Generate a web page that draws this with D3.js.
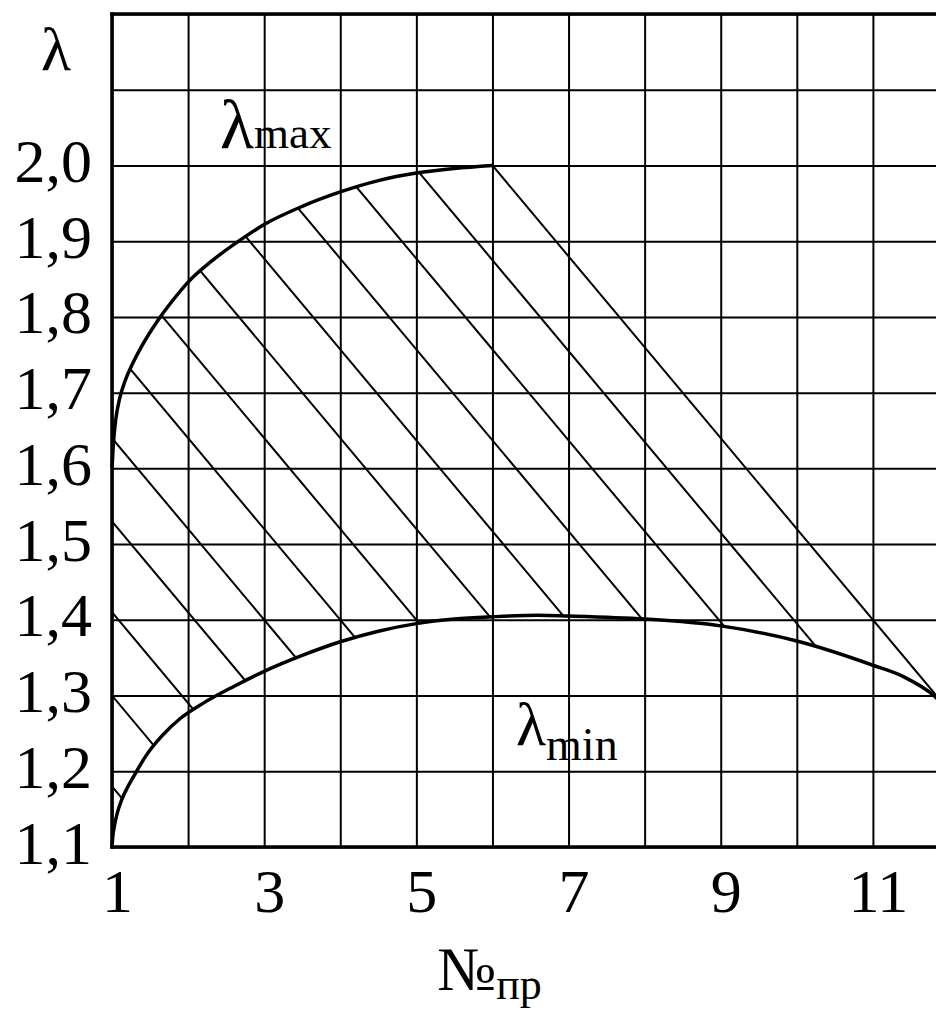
<!DOCTYPE html>
<html><head><meta charset="utf-8">
<script src="https://cdn.jsdelivr.net/npm/d3@7"></script>
<style>body{margin:0;background:#fff} svg{display:block}</style>
</head><body>
<script>
// ---- data ----
const xGridValues = [1,2,3,4,5,6,7,8,9,10,11,12];
const xTickValues = [1,3,5,7,9,11];
const xTickLabels = ["1","3","5","7","9","11"];
const yGridValues = [1.1,1.2,1.3,1.4,1.5,1.6,1.7,1.8,1.9,2.0,2.1,2.2];
const yTickValues = [1.1,1.2,1.3,1.4,1.5,1.6,1.7,1.8,1.9,2.0];
const yTickLabels = ["1,1","1,2","1,3","1,4","1,5","1,6","1,7","1,8","1,9","2,0"];

const lambdaMaxX = [1, 1.02, 1.05, 1.1, 1.17, 1.27, 1.4, 1.6, 1.8, 2, 2.3, 2.65, 3, 3.5, 4, 4.5, 5, 5.5, 6];
const lambdaMaxY = [1.6, 1.635, 1.665, 1.692, 1.715, 1.738, 1.763, 1.795, 1.822, 1.846, 1.873, 1.899, 1.922, 1.946, 1.965, 1.980, 1.990, 1.996, 2.0];

const lambdaMinX = [1, 1.01, 1.03, 1.07, 1.13, 1.2, 1.3, 1.45, 1.65, 1.9, 2.2, 2.6, 3, 3.5, 4, 4.5, 5, 5.5, 6, 6.6, 7, 8, 9, 10, 11, 11.4, 11.8, 12];
const lambdaMinY = [1.1, 1.113, 1.127, 1.145, 1.163, 1.178, 1.196, 1.221, 1.246, 1.270, 1.290, 1.312, 1.332, 1.353, 1.371, 1.385, 1.395, 1.401, 1.404, 1.406, 1.405, 1.401, 1.392, 1.372, 1.340, 1.325, 1.30, 1.28];

const boundaryX = [6, 12];
const boundaryY = [2.0, 1.28];
// hatch lines: value of λ where each line crosses x = 1, all with the same slope
const hatchStartY = [2.475, 2.357, 2.237, 2.117, 2.0, 1.88, 1.76, 1.64, 1.53, 1.41, 1.30, 1.18];
const hatchSlope = -0.12;

const labelMaxPos = [2.42, 2.023];
const labelMinPos = [6.31, 1.235];

// ---- drawing ----
const W = 936, H = 1011;
const FONT = "'Liberation Serif','Times New Roman',serif";
const x = d3.scaleLinear().domain([1,12]).range([112, 949]);
const y = d3.scaleLinear().domain([1.1,2.2]).range([847, 14]);

const svg = d3.select("body").append("svg").attr("width", W).attr("height", H)
  .style("background","#fff");

// grid
svg.append("g").attr("transform", `translate(0,${y(1.1)})`)
  .call(d3.axisBottom(x).tickValues(xGridValues).tickSize(-(y(1.1)-y(2.2))).tickFormat(""))
  .call(g => g.select(".domain").remove())
  .selectAll("line").attr("stroke","#000").attr("stroke-width",2);
svg.append("g").attr("transform", `translate(${x(1)},0)`)
  .call(d3.axisLeft(y).tickValues(yGridValues).tickSize(-(x(12)-x(1))).tickFormat(""))
  .call(g => g.select(".domain").remove())
  .selectAll("line").attr("stroke","#000").attr("stroke-width",2);

// hatch region clip
const line = d3.line().x(d => x(d[0])).y(d => y(d[1])).curve(d3.curveMonotoneX);
const maxPts = lambdaMaxX.map((v,i)=>[v, lambdaMaxY[i]]);
const minPts = lambdaMinX.map((v,i)=>[v, lambdaMinY[i]]);
const boundPts = boundaryX.map((v,i)=>[v, boundaryY[i]]);
const revMin = minPts.slice().reverse();
const clipD = line(maxPts) + "L" + x(boundPts[1][0]) + "," + y(boundPts[1][1]) +
  "L" + line(revMin).slice(1) + "Z";
svg.append("clipPath").attr("id","hatchClip").append("path").attr("d", clipD);

const straight = d3.line().x(d => x(d[0])).y(d => y(d[1]));
svg.append("g").attr("clip-path","url(#hatchClip)")
  .selectAll("path").data(hatchStartY).join("path")
  .attr("d", c => straight([[1, c], [12, c + hatchSlope*11]]))
  .attr("fill","none").attr("stroke","#000").attr("stroke-width",2);

// boundary diagonal
svg.append("path").attr("d", straight(boundPts))
  .attr("fill","none").attr("stroke","#000").attr("stroke-width",2);

// curves
svg.append("path").attr("d", line(maxPts)).attr("fill","none").attr("stroke","#000").attr("stroke-width",3.5);
svg.append("path").attr("d", line(minPts)).attr("fill","none").attr("stroke","#000").attr("stroke-width",3.5);

// frame (left, top, bottom)
const frame = [[[1,1.1],[1,2.2]], [[1,2.2],[12,2.2]], [[1,1.1],[12,1.1]]];
svg.append("g").selectAll("path").data(frame).join("path")
  .attr("d", d => straight(d)).attr("stroke","#000").attr("stroke-width",3.5)
  .attr("stroke-linecap","square").attr("fill","none");

// x tick labels
svg.append("g").attr("transform", `translate(0,${y(1.1)})`)
  .call(d3.axisBottom(x).tickValues(xTickValues).tickSize(0).tickFormat((d,i)=>xTickLabels[i]))
  .call(g => g.select(".domain").remove())
  .selectAll("text").attr("dy", null).attr("y", 65).attr("dx", 5)
  .attr("fill","#000").style("font-family", FONT).style("font-size","62px");

// y tick labels
svg.append("g").attr("transform", `translate(${x(1)},0)`)
  .call(d3.axisLeft(y).tickValues(yTickValues).tickSize(0).tickFormat((d,i)=>yTickLabels[i]))
  .call(g => g.select(".domain").remove())
  .selectAll("text").attr("dy", null).attr("x", -20).attr("y", 16)
  .attr("fill","#000").style("font-family", FONT).style("font-size","62px");

// axis titles
svg.append("text").attr("x", x(1) - 56).attr("y", y(2.2) + 56).attr("text-anchor","middle")
  .style("font-family", FONT).style("font-size","62px").text("λ");

const xt = svg.append("text").attr("x", x(6) - 3).attr("y", 990).attr("text-anchor","middle")
  .style("font-family", FONT);
xt.append("tspan").style("font-size","62px").text("№");
xt.append("tspan").style("font-size","44px").attr("dy", 9).text("пр");

// curve labels
const lm = svg.append("text").attr("x", x(labelMaxPos[0])).attr("y", y(labelMaxPos[1]))
  .style("font-family", FONT);
lm.append("tspan").style("font-size","70px").text("λ");
lm.append("tspan").style("font-size","45px").text("max");

const ln = svg.append("text").attr("x", x(labelMinPos[0])).attr("y", y(labelMinPos[1]))
  .style("font-family", FONT);
ln.append("tspan").style("font-size","62px").text("λ");
ln.append("tspan").style("font-size","46px").attr("dy", 15).text("min");
</script>
</body></html>
